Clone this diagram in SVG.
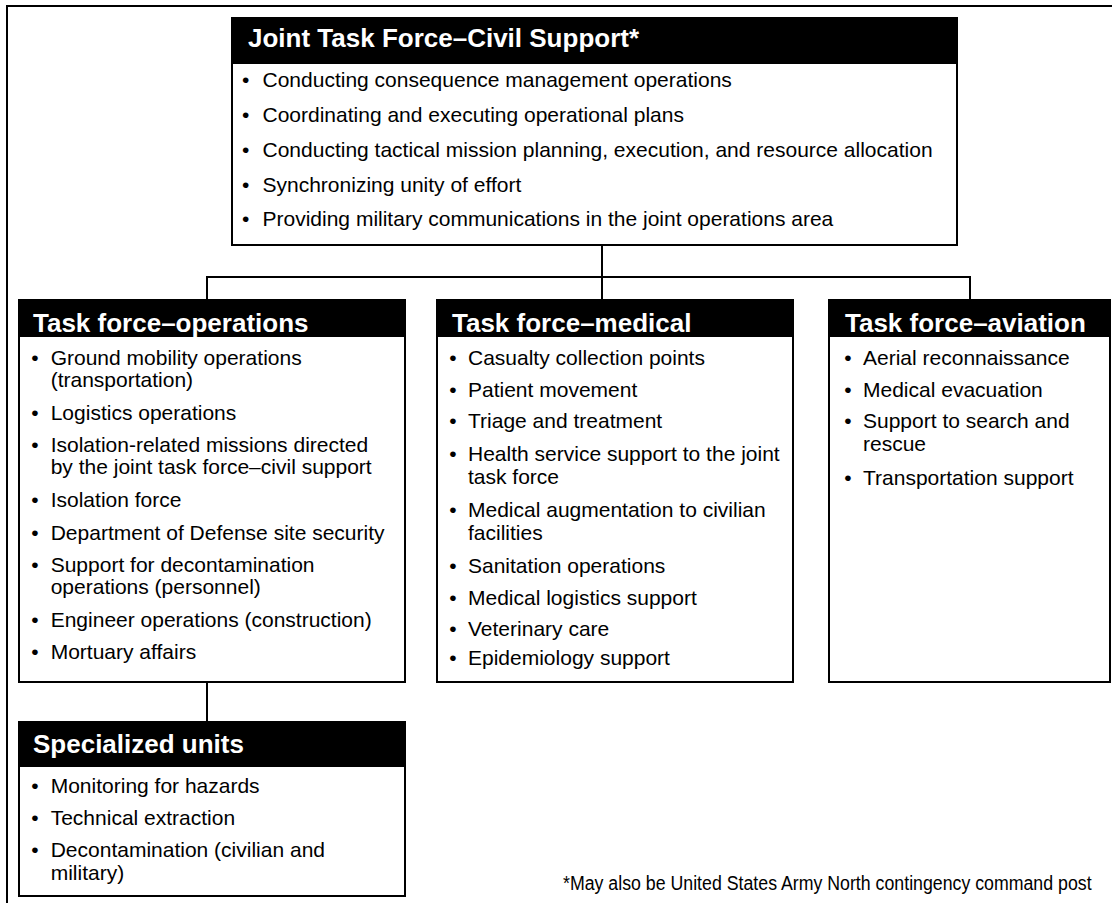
<svg xmlns="http://www.w3.org/2000/svg" width="1112" height="903" viewBox="0 0 1112 903">
<style>
.box{fill:#fff;stroke:#000;stroke-width:2}
.hdr{fill:#000}
.ht{font-family:"Liberation Sans",Arial,sans-serif;font-weight:bold;font-size:26px;fill:#fff}
.bt{font-family:"Liberation Sans",Arial,sans-serif;font-size:21px;fill:#000}
.ln{fill:none;stroke:#000;stroke-width:2}
.fn{font-family:"Liberation Sans",Arial,sans-serif;font-size:21px;fill:#000}
</style>
<rect width="1112" height="903" fill="#fff"/>
<rect x="7" y="6" width="1130" height="920" class="ln"/>
<g id="connectors">
<path class="ln" d="M602 245V277M207 300V277H970V300M602 277V300M207 682V722"/>
</g>
<g id="jtfcs">
<rect class="box" x="232" y="18" width="725" height="227"/>
<rect class="hdr" x="232" y="18" width="725" height="46"/>
<text class="ht" x="248" y="47">Joint Task Force–Civil Support*</text>
<text class="bt"><tspan x="242" y="87">•</tspan><tspan x="262.5" y="87">Conducting consequence management operations</tspan></text>
<text class="bt"><tspan x="242" y="122">•</tspan><tspan x="262.5" y="122">Coordinating and executing operational plans</tspan></text>
<text class="bt"><tspan x="242" y="157">•</tspan><tspan x="262.5" y="157">Conducting tactical mission planning, execution, and resource allocation</tspan></text>
<text class="bt"><tspan x="242" y="192">•</tspan><tspan x="262.5" y="192">Synchronizing unity of effort</tspan></text>
<text class="bt"><tspan x="242" y="226">•</tspan><tspan x="262.5" y="226">Providing military communications in the joint operations area</tspan></text>
</g>
<g id="tf-operations">
<rect class="box" x="19" y="300" width="386" height="382"/>
<rect class="hdr" x="19" y="300" width="386" height="37"/>
<text class="ht" x="33" y="332">Task force–operations</text>
<text class="bt"><tspan x="31.3" y="364.5">•</tspan><tspan x="50.7" y="364.5">Ground mobility operations</tspan><tspan x="50.7" y="386.5">(transportation)</tspan></text>
<text class="bt"><tspan x="31.3" y="419.5">•</tspan><tspan x="50.7" y="419.5">Logistics operations</tspan></text>
<text class="bt"><tspan x="31.3" y="452">•</tspan><tspan x="50.7" y="452">Isolation-related missions directed</tspan><tspan x="50.7" y="474">by the joint task force–civil support</tspan></text>
<text class="bt"><tspan x="31.3" y="507">•</tspan><tspan x="50.7" y="507">Isolation force</tspan></text>
<text class="bt"><tspan x="31.3" y="539.5">•</tspan><tspan x="50.7" y="539.5">Department of Defense site security</tspan></text>
<text class="bt"><tspan x="31.3" y="572">•</tspan><tspan x="50.7" y="572">Support for decontamination</tspan><tspan x="50.7" y="594">operations (personnel)</tspan></text>
<text class="bt"><tspan x="31.3" y="626.5">•</tspan><tspan x="50.7" y="626.5">Engineer operations (construction)</tspan></text>
<text class="bt"><tspan x="31.3" y="659">•</tspan><tspan x="50.7" y="659">Mortuary affairs</tspan></text>
</g>
<g id="tf-medical">
<rect class="box" x="437" y="300" width="356" height="382"/>
<rect class="hdr" x="437" y="300" width="356" height="37"/>
<text class="ht" x="452" y="332">Task force–medical</text>
<text class="bt"><tspan x="449.3" y="365">•</tspan><tspan x="468" y="365">Casualty collection points</tspan></text>
<text class="bt"><tspan x="449.3" y="396.5">•</tspan><tspan x="468" y="396.5">Patient movement</tspan></text>
<text class="bt"><tspan x="449.3" y="428">•</tspan><tspan x="468" y="428">Triage and treatment</tspan></text>
<text class="bt"><tspan x="449.3" y="461">•</tspan><tspan x="468" y="461">Health service support to the joint</tspan><tspan x="468" y="484">task force</tspan></text>
<text class="bt"><tspan x="449.3" y="517">•</tspan><tspan x="468" y="517">Medical augmentation to civilian</tspan><tspan x="468" y="540">facilities</tspan></text>
<text class="bt"><tspan x="449.3" y="572.5">•</tspan><tspan x="468" y="572.5">Sanitation operations</tspan></text>
<text class="bt"><tspan x="449.3" y="604.5">•</tspan><tspan x="468" y="604.5">Medical logistics support</tspan></text>
<text class="bt"><tspan x="449.3" y="635.5">•</tspan><tspan x="468" y="635.5">Veterinary care</tspan></text>
<text class="bt"><tspan x="449.3" y="665">•</tspan><tspan x="468" y="665">Epidemiology support</tspan></text>
</g>
<g id="tf-aviation">
<rect class="box" x="829" y="300" width="281" height="382"/>
<rect class="hdr" x="829" y="300" width="281" height="37"/>
<text class="ht" x="845" y="332">Task force–aviation</text>
<text class="bt"><tspan x="844.3" y="365">•</tspan><tspan x="863" y="365">Aerial reconnaissance</tspan></text>
<text class="bt"><tspan x="844.3" y="396.7">•</tspan><tspan x="863" y="396.7">Medical evacuation</tspan></text>
<text class="bt"><tspan x="844.3" y="428">•</tspan><tspan x="863" y="428">Support to search and</tspan><tspan x="863" y="451">rescue</tspan></text>
<text class="bt"><tspan x="844.3" y="485">•</tspan><tspan x="863" y="485">Transportation support</tspan></text>
</g>
<g id="specialized-units">
<rect class="box" x="19" y="722" width="386" height="174"/>
<rect class="hdr" x="19" y="722" width="386" height="45"/>
<text class="ht" x="33" y="753">Specialized units</text>
<text class="bt"><tspan x="31.3" y="792.5">•</tspan><tspan x="50.7" y="792.5">Monitoring for hazards</tspan></text>
<text class="bt"><tspan x="31.3" y="825">•</tspan><tspan x="50.7" y="825">Technical extraction</tspan></text>
<text class="bt"><tspan x="31.3" y="857">•</tspan><tspan x="50.7" y="857">Decontamination (civilian and</tspan><tspan x="50.7" y="880">military)</tspan></text>
</g>
<text class="fn" transform="translate(563 890) scale(0.845 1)" x="0" y="0">*May also be United States Army North contingency command post</text>
</svg>
